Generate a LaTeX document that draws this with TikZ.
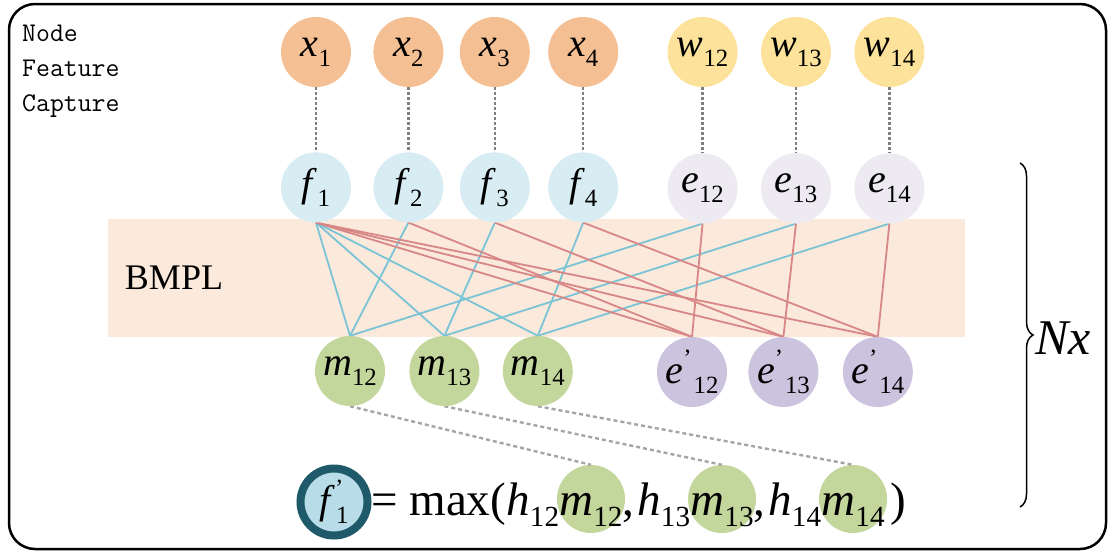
\documentclass[tikz,border=0pt]{standalone}
\usepackage{fontspec}
\setmainfont{LiberationSerif}[Extension=.ttf, UprightFont=*-Regular, ItalicFont=*-Italic, BoldFont=*-Bold, BoldItalicFont=*-BoldItalic]
\usepackage{tikz}
\usetikzlibrary{positioning, calc, backgrounds, decorations.pathreplacing}
\definecolor{xorange}{RGB}{245, 191, 148}
\definecolor{wyellow}{RGB}{252, 226, 154}
\definecolor{fblue}{RGB}{216, 236, 243}
\definecolor{egrey}{RGB}{237, 234, 241}
\definecolor{mgreen}{RGB}{195, 214, 155}
\definecolor{epurple}{RGB}{204, 196, 222}
\definecolor{bandpeach}{RGB}{251, 233, 219}
\definecolor{lineblue}{RGB}{122, 196, 214}
\definecolor{linered}{RGB}{216, 135, 135}
\definecolor{dashgrey}{RGB}{128, 128, 128}
\definecolor{dotgrey}{RGB}{165, 165, 165}
\definecolor{fpring}{RGB}{30, 90, 106}
\definecolor{fpfill}{RGB}{185, 221, 232}

\newcommand{\lbl}[2]{\textit{#1}\raisebox{-0.25em}{\scalebox{0.62}{#2}}}
\newcommand{\lblp}[3]{\textit{#1}\raisebox{0.42em}{\scalebox{0.62}{'}}\kern#3\raisebox{-0.25em}{\scalebox{0.62}{#2}}}

\begin{document}
\begin{tikzpicture}[
    x=1pt, y=1pt,
    nd/.style={circle, inner sep=0pt, minimum size=70pt, font=\fontsize{40}{40}\selectfont},
    xnode/.style={nd, fill=xorange},
    wnode/.style={nd, fill=wyellow},
    fnode/.style={nd, fill=fblue},
    enode/.style={nd, fill=egrey},
    mnode/.style={nd, fill=mgreen},
    epnode/.style={nd, fill=epurple},
    band/.style={rectangle, fill=bandpeach, inner sep=0pt, minimum width=857pt, minimum height=118pt},
    fmline/.style={line width=1.8pt, color=lineblue},
    feline/.style={line width=1.8pt, color=linered},
    dashline/.style={line width=2.4pt, color=dashgrey, dash pattern=on 3pt off 2pt},
    dotline/.style={line width=2.4pt, color=dotgrey, dash pattern=on 4pt off 3pt},
    formula/.style={inner sep=0pt, font=\fontsize{47}{50}\selectfont},
    fprime/.style={circle, inner sep=0pt, minimum size=67pt, line width=8pt, draw=fpring, fill=fpfill, font=\fontsize{40}{40}\selectfont},
    mform/.style={circle, inner sep=0pt, minimum size=68pt, fill=mgreen},
    frame/.style={line width=2.5pt, rounded corners=26pt}
]
    \useasboundingbox (0,0) rectangle (1113,-555);
    \draw [frame] (9,-4) rectangle (1106,-549);

    \node (cap) [anchor=north west, align=left, inner sep=0pt, font=\ttfamily\fontsize{27}{35}\selectfont] at (22,-25) {Node\\Feature\\Capture};

    % input row
    \node [xnode] (x1) at (316,-52) {\lbl{x}{1}};
    \node [xnode, right=22pt of x1] (x2) {\lbl{x}{2}};
    \node [xnode, right=16pt of x2] (x3) {\lbl{x}{3}};
    \node [xnode, right=18pt of x3] (x4) {\lbl{x}{4}};
    \node [wnode, right=49pt of x4] (w12) {\lbl{w}{12}};
    \node [wnode, right=23pt of w12] (w13) {\lbl{w}{13}};
    \node [wnode, right=23pt of w13] (w14) {\lbl{w}{14}};

    % embedded row
    \node [fnode, below=65pt of x1] (f1) {\lbl{f}{1}};
    \node [fnode, below=65pt of x2] (f2) {\lbl{f}{2}};
    \node [fnode, below=65pt of x3] (f3) {\lbl{f}{3}};
    \node [fnode, below=65pt of x4] (f4) {\lbl{f}{4}};
    \node [enode, below=66pt of w12] (e12) {\lbl{e}{12}};
    \node [enode, below=66pt of w13] (e13) {\lbl{e}{13}};
    \node [enode, below=66pt of w14] (e14) {\lbl{e}{14}};

    % message / update row
    \node [mnode] (m12) at (350,-371) {\lbl{m}{12}};
    \node [mnode, right=24pt of m12] (m13) {\lbl{m}{13}};
    \node [mnode, right=23pt of m13] (m14) {\lbl{m}{14}};
    \node [epnode] (ep12) at (692,-372) {\lblp{e}{12}{0.05em}};
    \node [epnode, right=21pt of ep12] (ep13) {\lblp{e}{13}{0.05em}};
    \node [epnode, right=24pt of ep13] (ep14) {\lblp{e}{14}{0.05em}};

    \node (bmpl) [font=\fontsize{36}{36}\selectfont] at (174,-278) {BMPL};
    \node (nx) [font=\itshape\fontsize{50}{50}\selectfont] at (1063,-338) {Nx};

    % aggregation formula
    \node [fprime] (fp) at (334,-502) {\lblp{f}{1}{-0.18em}};
    \node [formula, anchor=base west] (eqmax) at (371,-515) {= max(};
    \node [formula, anchor=base west] (h12) at (eqmax.base east) {\lbl{h}{12}};
    \node [formula, anchor=base west] (mf12) at (h12.base east) {\lbl{m}{12}};
    \node [formula, anchor=base west] (cm1) at (mf12.base east) {,\kern0.05em};
    \node [formula, anchor=base west] (h13) at (cm1.base east) {\lbl{h}{13}};
    \node [formula, anchor=base west] (mf13) at (h13.base east) {\lbl{m}{13}};
    \node [formula, anchor=base west] (cm2) at (mf13.base east) {,\kern0.05em};
    \node [formula, anchor=base west] (h14) at (cm2.base east) {\lbl{h}{14}};
    \node [formula, anchor=base west] (mf14) at (h14.base east) {\lbl{m}{14}};
    \node [formula, anchor=base west] (rpar) at (mf14.base east) {\kern0.12em)};

    \coordinate (btop) at (1020,-163);
    \coordinate (bbot) at (1020,-507);
    \draw [line width=1.5pt, decorate, decoration={brace, amplitude=13pt}] (btop) -- (bbot);

    \begin{scope}[on background layer]
        \node [band] (bnd) at (536.5,-278) {};

        \draw [dashline] (x1) -- (f1);
        \draw [dashline] (x2) -- (f2);
        \draw [dashline] (x3) -- (f3);
        \draw [dashline] (x4) -- (f4);
        \draw [dashline] (w12) -- (e12);
        \draw [dashline] (w13) -- (e13);
        \draw [dashline] (w14) -- (e14);

        % messages
        \draw [fmline] (f1.south) -- (m12.north);
        \draw [fmline] (f1.south) -- (m13.north);
        \draw [fmline] (f1.south) -- (m14.north);
        \draw [fmline] (f2.south) -- (m12.north);
        \draw [fmline] (f3.south) -- (m13.north);
        \draw [fmline] (f4.south) -- (m14.north);
        \draw [fmline] (e12.south) -- (m12.north);
        \draw [fmline] (e13.south) -- (m13.north);
        \draw [fmline] (e14.south) -- (m14.north);

        % edge updates
        \draw [feline] (f1.south) -- (ep12.north);
        \draw [feline] (f1.south) -- (ep13.north);
        \draw [feline] (f1.south) -- (ep14.north);
        \draw [feline] (f2.south) -- (ep12.north);
        \draw [feline] (f3.south) -- (ep13.north);
        \draw [feline] (f4.south) -- (ep14.north);
        \draw [feline] (e12.south) -- (ep12.north);
        \draw [feline] (e13.south) -- (ep13.north);
        \draw [feline] (e14.south) -- (ep14.north);

        \node [mform] (g12) at ($(mf12.base)+(0,16)$) {};
        \node [mform] (g13) at ($(mf13.base)+(0,16)$) {};
        \node [mform] (g14) at ($(mf14.base)+(0,16)$) {};
        \draw [dotline] (m12.south) -- (g12.north);
        \draw [dotline] (m13.south) -- (g13.north);
        \draw [dotline] (m14.south) -- (g14.north);
    \end{scope}

\end{tikzpicture}
\end{document}
